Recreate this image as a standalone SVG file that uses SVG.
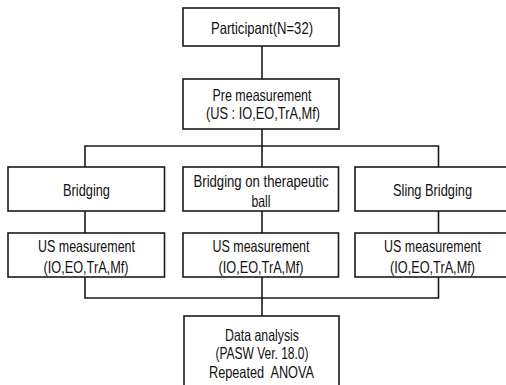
<svg xmlns="http://www.w3.org/2000/svg" width="506" height="385" viewBox="0 0 506 385">
<style>
.box{fill:#fff;stroke:#1a1a1a;stroke-width:1.6}
.ln{fill:none;stroke:#1a1a1a;stroke-width:1.6}
text{font-family:"Liberation Sans","DejaVu Sans",sans-serif;font-size:16.5px;fill:#111;text-anchor:middle;white-space:pre}
</style>
<rect width="506" height="385" fill="#fff"/>
<g id="connectors">
<path class="ln" d="M262,46V79M262,129V146M85,167V146H438.5V167M262,146V167"/>
<path class="ln" d="M85,211V233M262,211V233M438.5,211V233"/>
<path class="ln" d="M85,277V298H438.5V277M262,277V316"/>
</g>
<g id="participant">
<rect class="box" x="183" y="8" width="156" height="38"/>
<text x="262" y="33.5" textLength="102" lengthAdjust="spacingAndGlyphs">Participant(N=32)</text>
</g>
<g id="pre">
<rect class="box" x="183" y="79" width="156" height="50"/>
<text x="262" y="101" textLength="99" lengthAdjust="spacingAndGlyphs">Pre measurement</text>
<text x="263" y="119" textLength="114" lengthAdjust="spacingAndGlyphs">(US : IO,EO,TrA,Mf)</text>
</g>
<g id="bridging">
<rect class="box" x="8" y="167" width="156.5" height="44"/>
<text x="86.5" y="196" textLength="47" lengthAdjust="spacingAndGlyphs">Bridging</text>
</g>
<g id="ball">
<rect class="box" x="183" y="167" width="155.5" height="44"/>
<text x="261" y="187" textLength="135" lengthAdjust="spacingAndGlyphs">Bridging on therapeutic</text>
<text x="261" y="207" textLength="19" lengthAdjust="spacingAndGlyphs">ball</text>
</g>
<g id="sling">
<rect class="box" x="355" y="167" width="156" height="44"/>
<text x="432.5" y="196" textLength="79" lengthAdjust="spacingAndGlyphs">Sling Bridging</text>
</g>
<g id="us1">
<rect class="box" x="8" y="233" width="156.5" height="44"/>
<text x="86.5" y="252" textLength="97" lengthAdjust="spacingAndGlyphs">US measurement</text>
<text x="86" y="272.5" textLength="85" lengthAdjust="spacingAndGlyphs">(IO,EO,TrA,Mf)</text>
</g>
<g id="us2">
<rect class="box" x="183" y="233" width="155.5" height="44"/>
<text x="261" y="252" textLength="97" lengthAdjust="spacingAndGlyphs">US measurement</text>
<text x="261" y="272.5" textLength="85" lengthAdjust="spacingAndGlyphs">(IO,EO,TrA,Mf)</text>
</g>
<g id="us3">
<rect class="box" x="355" y="233" width="156" height="44"/>
<text x="432.5" y="252" textLength="97" lengthAdjust="spacingAndGlyphs">US measurement</text>
<text x="432.5" y="272.5" textLength="85" lengthAdjust="spacingAndGlyphs">(IO,EO,TrA,Mf)</text>
</g>
<g id="analysis">
<rect class="box" x="184" y="316" width="155" height="80"/>
<text x="262" y="341" textLength="74" lengthAdjust="spacingAndGlyphs">Data analysis</text>
<text x="262" y="358.5" textLength="93" lengthAdjust="spacingAndGlyphs">(PASW Ver. 18.0)</text>
<text x="261.5" y="378" textLength="105" lengthAdjust="spacingAndGlyphs" xml:space="preserve">Repeated  ANOVA</text>
</g>
</svg>
